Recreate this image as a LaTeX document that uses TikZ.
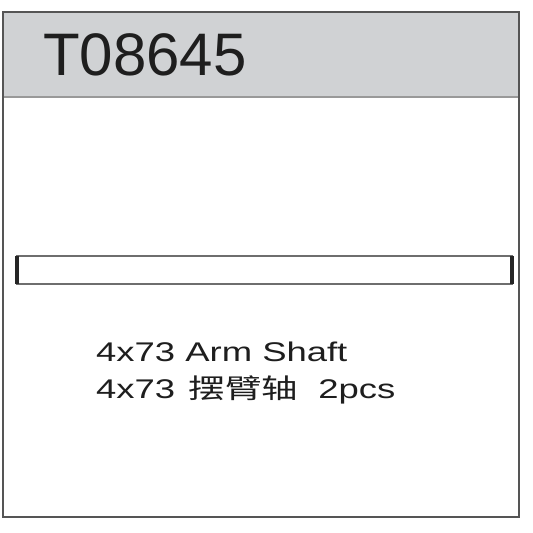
\documentclass[tikz,border=0pt]{standalone}
\usepackage{fontspec}
\setmainfont{Liberation Sans}
\newfontfamily\cjk{Noto Sans CJK SC}
\definecolor{hdr}{HTML}{D0D2D4}
\definecolor{frm}{HTML}{555555}
\definecolor{txt}{HTML}{1E1E1E}
\tikzset{
  framebox/.style={draw=frm, line width=2.4pt},
  shaftbox/.style={draw=frm!85, line width=1.8pt, fill=white},
  capline/.style={draw=black!85, line width=3.4pt},
  label/.style={anchor=base west, inner sep=0pt, text=txt}
}
\begin{document}
\begin{tikzpicture}[x=1pt,y=-1pt]
\useasboundingbox (0,0) rectangle (533,533);
\fill[white] (0,0) rectangle (533,533);
\fill[hdr] (3,12) rectangle (519,97);
\draw[black!40, line width=1.5pt] (3,97) -- (519,97);
\draw[black!45, line width=2.5pt] (3,12) -- (519,12);
\draw[framebox] (3,12) rectangle (519,517);
\node[label, font=\fontsize{60}{60}\selectfont] (code) at (43,75) {T08645};
\draw[shaftbox] (17,256) rectangle (512,284);
\draw[capline] (17,256) -- (17,284);
\draw[capline] (512,256) -- (512,284);
\node[label, font=\fontsize{27}{27}\selectfont] (en) at (96,361) {\scalebox{1.35}[1]{4x73 Arm Shaft}};
\node[label, font=\fontsize{27}{27}\selectfont] (cn) at (96,398) {\scalebox{1.35}[1]{4x73\hspace{10pt}{\cjk 摆臂轴}\hspace{15pt}2pcs}};
\end{tikzpicture}
\end{document}
